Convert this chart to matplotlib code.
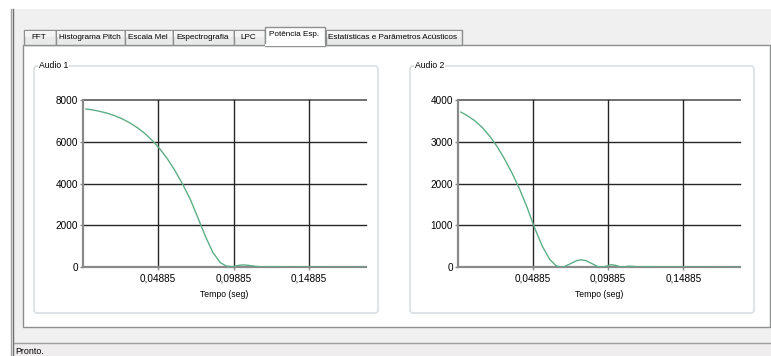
import matplotlib
matplotlib.use("Agg")
import matplotlib.pyplot as plt
from matplotlib.patches import Rectangle, FancyBboxPatch

# ---------------- data ----------------
tab_names = ["FFT", "Histograma Pitch", "Escala Mel", "Espectrografia", "LPC",
             "Potência Esp.", "Estatísticas e Parâmetros Acústicos"]
selected_tab = "Potência Esp."

t1 = [0.001, 0.005, 0.010, 0.015, 0.020, 0.025, 0.030, 0.035, 0.040, 0.045,
      0.050, 0.055, 0.060, 0.065, 0.070, 0.075, 0.080, 0.085, 0.090, 0.094,
      0.098, 0.102, 0.105, 0.108, 0.112, 0.116, 0.120, 0.125, 0.130, 0.135,
      0.140, 0.150, 0.160, 0.170, 0.186]
v1 = [7570, 7530, 7460, 7370, 7250, 7100, 6910, 6680, 6400, 6060,
      5660, 5180, 4620, 3980, 3270, 2400, 1500, 720, 220, 60,
      30, 90, 115, 100, 60, 25, 12, 25, 20, 5,
      10, 5, 3, 2, 0]

t2 = [0.001, 0.005, 0.010, 0.015, 0.020, 0.025, 0.030, 0.035, 0.040, 0.045,
      0.050, 0.055, 0.060, 0.064, 0.067, 0.070, 0.074, 0.078, 0.081, 0.084,
      0.088, 0.092, 0.095, 0.098, 0.101, 0.104, 0.107, 0.110, 0.113, 0.116,
      0.119, 0.122, 0.126, 0.130, 0.135, 0.140, 0.150, 0.160, 0.186]
v2 = [3710, 3630, 3510, 3350, 3140, 2890, 2590, 2250, 1870, 1430,
      940, 510, 190, 45, 0, 20, 90, 160, 178, 160,
      90, 15, 5, 30, 62, 45, 10, 15, 28, 20,
      5, 8, 14, 6, 3, 6, 3, 2, 0]

x_ticks = [0.04885, 0.09885, 0.14885]
x_tick_labels = ["0,04885", "0,09885", "0,14885"]
y_ticks1 = [0, 2000, 4000, 6000, 8000]
y_ticks2 = [0, 1000, 2000, 3000, 4000]
titles = ["Audio 1", "Audio 2"]
x_label = "Tempo (seg)"
status_text = "Pronto."

# ---------------- layout ----------------
W, H = 771, 356
FONT = ['Liberation Sans', 'DejaVu Sans']
FS = 7.2      # tick labels
FS_UI = 5.9   # tab / group / status texts (condensed look)

fig = plt.figure(figsize=(W / 100, H / 100), dpi=100, facecolor='white')
bg = fig.add_axes([0, 0, 1, 1], zorder=-5)
bg.set_xlim(0, W)
bg.set_ylim(H, 0)
bg.axis('off')

# window background
bg.add_patch(Rectangle((13, 9), W - 13, H - 9, facecolor='#F0F0F0', edgecolor='none'))
bg.plot([11, 11], [9, H], color='#A0A0A0', lw=1)
bg.plot([13, 13], [9, H], color='#6E6E6E', lw=1)

# status bar
bg.add_patch(Rectangle((14, 343), W - 14, H - 343, facecolor='#EFEDED', edgecolor='none'))
bg.plot([14, W], [342.5, 342.5], color='#A0A0A0', lw=1)
bg.text(15, 355.5, status_text, family=FONT, fontsize=6.4, va='bottom', ha='left', color='black')

# tab panel
bg.add_patch(Rectangle((22.5, 44.5), W - 23.5, 282, facecolor='white', edgecolor='#8E8F8F', lw=1))

# tabs
tab_edges = [23, 55, 124, 172, 233, 264, 325, 461]
for i, name in enumerate(tab_names):
    x0, x1 = tab_edges[i], tab_edges[i + 1]
    if name == selected_tab:
        bg.add_patch(Rectangle((x0 + 0.5, 26.5), x1 - x0 - 1, 19, facecolor='white',
                               edgecolor='#8E8F8F', lw=1, zorder=3))
        bg.plot([x0 + 1.5, x1 - 1.5], [45, 45], color='white', lw=1.5, zorder=4)
        bg.text((x0 + x1) / 2, 34.5, name, family=FONT, fontsize=FS_UI,
                ha='center', va='center', zorder=5)
    else:
        bg.add_patch(Rectangle((x0 + 0.5, 29.5), x1 - x0, 15, facecolor='#EAEAEA',
                               edgecolor='#8E8F8F', lw=1, zorder=2))
        bg.add_patch(Rectangle((x0 + 1.5, 30.5), x1 - x0 - 2, 6, facecolor='#F4F4F4',
                               edgecolor='none', zorder=2))
        bg.text((x0 + x1) / 2, 37.5, name, family=FONT, fontsize=FS_UI,
                ha='center', va='center', zorder=5)

# group boxes
for (gx0, gx1), title in zip([(34, 378), (410, 754)], titles):
    bg.add_patch(FancyBboxPatch((gx0, 66), gx1 - gx0, 247,
                                boxstyle='round,pad=0,rounding_size=3',
                                facecolor='white', edgecolor='#D3D9DE', lw=1))
    bg.text(gx0 + 5, 66, title, family=FONT, fontsize=6.2, ha='left', va='center',
            bbox=dict(facecolor='white', edgecolor='none', pad=0.6))

# ---------------- charts ----------------
def make_chart(left_px, right_px, t, v, yticks):
    top_px, bot_px = 100, 267.3
    ax = fig.add_axes([left_px / W, (H - bot_px) / H, (right_px - left_px) / W,
                       (bot_px - top_px) / H])
    ax.set_facecolor('none')
    ax.set_xlim(-0.00115, 0.1865)
    ax.set_ylim(yticks[0], yticks[-1])
    for yv in yticks[1:-1]:
        ax.axhline(yv, color='#262626', lw=1.0, clip_on=False, zorder=1)
    ax.axhline(yticks[-1], color='#707070', lw=1.4, clip_on=False, zorder=1)
    for xv in x_ticks:
        ax.axvline(xv, color='#262626', lw=1.0, clip_on=False, zorder=1)
    ax.plot(t, v, color='#5DAE86', lw=1.0, zorder=3)
    for s in ['top', 'right']:
        ax.spines[s].set_visible(False)
    for s in ['left', 'bottom']:
        ax.spines[s].set_color('#8A8A8A')
        ax.spines[s].set_linewidth(1.6)
        ax.spines[s].set_zorder(2)
    ax.set_xticks(x_ticks)
    ax.set_xticklabels(x_tick_labels)
    ax.set_yticks(yticks)
    ax.set_yticklabels([str(y) for y in yticks])
    ax.tick_params(axis='both', direction='out', length=2.5, width=1, color='#8A8A8A',
                   labelsize=FS)
    ax.tick_params(axis='y', pad=0.8)
    ax.tick_params(axis='x', pad=1.8)
    for lab in ax.get_xticklabels() + ax.get_yticklabels():
        lab.set_family(FONT)
    ax.set_xlabel(x_label, family=FONT, fontsize=6.2, labelpad=5)
    return ax

make_chart(82.7, 366, t1, v1, y_ticks1)
make_chart(457.7, 740, t2, v2, y_ticks2)

fig.savefig('out.png', dpi=100, facecolor='white')
